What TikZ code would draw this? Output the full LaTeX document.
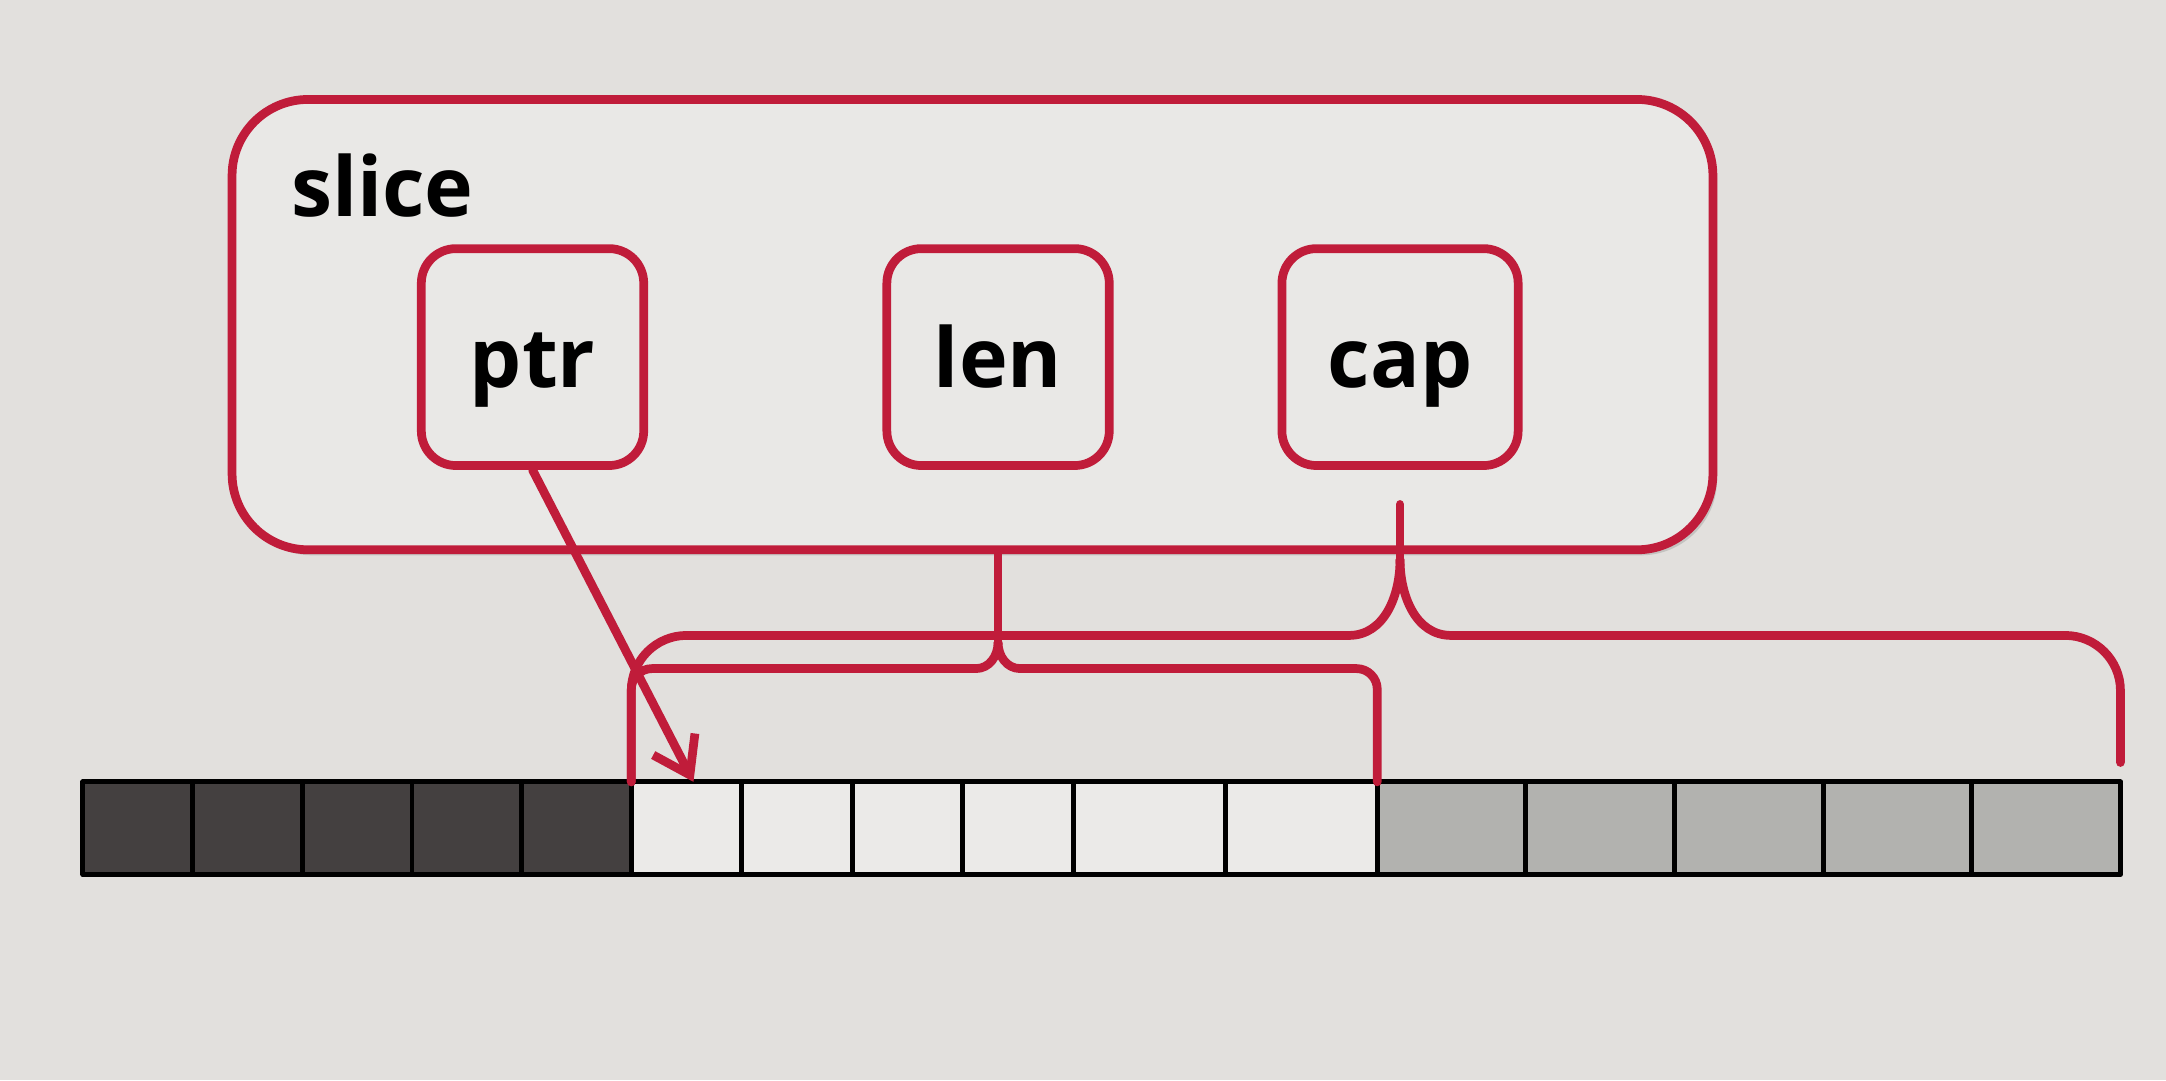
\documentclass[tikz,border=0pt]{standalone}
\usepackage{fontspec}
\setmainfont{Open Sans}
\usetikzlibrary{positioning}
\usetikzlibrary{calc}
\usetikzlibrary{arrows.meta}
\usetikzlibrary{shadows}
\usepackage{xcolor}
\definecolor{sliceRed}{RGB}{192,28,58}
\definecolor{bgGray}{RGB}{226,224,221}
\definecolor{boxFill}{RGB}{233,232,230}
\definecolor{cellDark}{RGB}{68,64,64}
\definecolor{cellWhite}{RGB}{235,234,232}
\definecolor{cellGray}{RGB}{178,178,175}
\newcommand{\slicefont}{\fontsize{17}{20}\selectfont\bfseries}

\begin{document}
\begin{tikzpicture}[line join=round]
        % ================= 样式定义 =================
        \tikzset{
            % slice 外框
            slicebox/.style={draw=sliceRed, line width=1.8pt, fill=boxFill, rounded corners=0.55cm, minimum width=10.72cm, minimum height=3.26cm, inner sep=0pt, drop shadow={opacity=0.3, shadow xshift=0.03cm, shadow yshift=-0.04cm}},
            % 字段小框
            fieldbox/.style={draw=sliceRed, line width=1.8pt, fill=boxFill, rounded corners=0.25cm, minimum width=1.61cm, minimum height=1.57cm, inner sep=0pt, font=\slicefont, text height=0.5cm, text depth=0.06cm, drop shadow={opacity=0.15, shadow xshift=0.02cm, shadow yshift=-0.02cm}},
            % 数组格子
            cell/.style={draw=black, line width=1pt, minimum height=0.67cm, inner sep=0pt, outer sep=0pt},
            dcell/.style={cell, fill=cellDark, minimum width=0.794cm},
            wcell/.style={cell, fill=cellWhite, minimum width=0.80cm},
            wwcell/.style={cell, fill=cellWhite, minimum width=1.10cm},
            gcell/.style={cell, fill=cellGray, minimum width=1.076cm},
            % 红色连线
            bracket/.style={draw=sliceRed, line width=1.8pt, line cap=round},
            ptrarrow/.style={bracket, -{Straight Barb[length=2.5mm, width=3.4mm]}}
        }

        % ================= 背景 =================
        \path[use as bounding box, fill=bgGray] (0,0) rectangle (15.68,7.82);

        % ================= slice 结构 =================
        \node[slicebox] (slice) at (7.04,5.47) {};
        \node[anchor=base west, font=\slicefont, inner sep=0pt] (sliceLabel) at (2.10,6.25) {slice};

        \node[fieldbox] (ptr) at (3.855,5.235) {ptr};
        \node[fieldbox] (len) at (7.225,5.235) {len};
        \node[fieldbox, minimum width=1.71cm] (cap) at (10.135,5.235) {cap};

        % ================= 底层数组 =================
        \node[dcell, anchor=west] (c1) at (0.60,1.825) {};
        \node[dcell, right=0pt of c1] (c2) {};
        \node[dcell, right=0pt of c2] (c3) {};
        \node[dcell, right=0pt of c3] (c4) {};
        \node[dcell, right=0pt of c4] (c5) {};
        \node[wcell, right=0pt of c5] (c6) {};
        \node[wcell, right=0pt of c6] (c7) {};
        \node[wcell, right=0pt of c7] (c8) {};
        \node[wcell, right=0pt of c8] (c9) {};
        \node[wwcell, right=0pt of c9] (c10) {};
        \node[wwcell, right=0pt of c10] (c11) {};
        \node[gcell, right=0pt of c11] (c12) {};
        \node[gcell, right=0pt of c12] (c13) {};
        \node[gcell, right=0pt of c13] (c14) {};
        \node[gcell, right=0pt of c14] (c15) {};
        \node[gcell, right=0pt of c15] (c16) {};

        % ================= 连线 =================
        \coordinate (lenLine) at (0,2.98);
        \coordinate (capLine) at (0,3.22);

        % 1. cap 括号
        \coordinate (capTop) at ($(cap.south)+(0,-0.25)$);
        \coordinate (capTip) at ($(capTop)+(0,-0.40)$);
        \coordinate (capL) at ($(capTip |- capLine)+(-0.37,0)$);
        \coordinate (capR) at ($(capTip |- capLine)+(0.37,0)$);
        \coordinate (capEnd) at ($(c16.north east)+(0,0.14)$);
        \draw[bracket] (capTop) -- (capTip);
        \draw[bracket] (capTip) to[out=-90, in=0] (capL);
        \draw[bracket] (capTip) to[out=-90, in=180] (capR);
        \draw[bracket, rounded corners=0.4cm] (capL) -- (c6.north west |- capLine) -- (c6.north west);
        \draw[bracket, rounded corners=0.4cm] (capR) -- (c16.north east |- capLine) -- (capEnd);

        % 2. len 括号
        \coordinate (lenTop) at (len.south |- slice.south);
        \coordinate (lenTip) at ($(lenTop)+(0,-0.64)$);
        \coordinate (lenL) at ($(lenTip |- lenLine)+(-0.16,0)$);
        \coordinate (lenR) at ($(lenTip |- lenLine)+(0.16,0)$);
        \draw[bracket] (lenTop) -- (lenTip);
        \draw[bracket] (lenTip) to[out=-90, in=0] (lenL);
        \draw[bracket] (lenTip) to[out=-90, in=180] (lenR);
        \draw[bracket, rounded corners=0.15cm] (lenL) -- (c6.north west |- lenLine) -- (c6.north west);
        \draw[bracket, rounded corners=0.15cm] (lenR) -- (c11.north east |- lenLine) -- (c11.north east);

        % 3. ptr 指针
        \draw[ptrarrow] (ptr.south) -- ($(c6.north)+(0.05,0)$);

\end{tikzpicture}
\end{document}
